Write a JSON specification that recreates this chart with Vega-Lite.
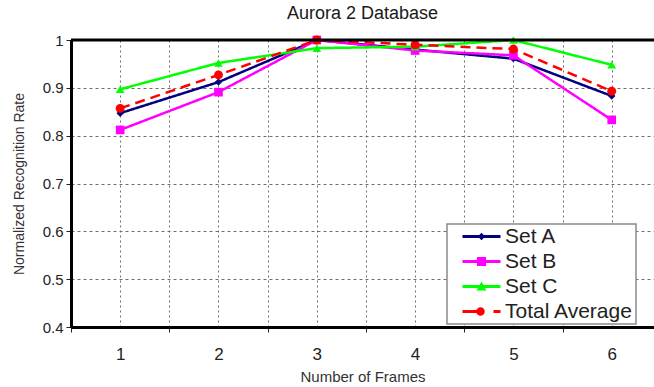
{
  "$schema": "https://vega.github.io/schema/vega-lite/v6.json",
  "autosize": "none",
  "width": 583,
  "height": 287,
  "padding": {"left": 71, "top": 40, "right": 0, "bottom": 60},
  "background": "white",
  "title": {
    "text": "Aurora 2 Database",
    "font": "Liberation Sans",
    "fontSize": 18,
    "fontWeight": "normal",
    "color": "#1a1a1a",
    "anchor": "middle",
    "offset": 10
  },
  "config": {
    "view": {"stroke": null},
    "font": "Liberation Sans",
    "legend": {
      "fillColor": "white",
      "strokeColor": "#8a8a8a",
      "strokeWidth": 1.5,
      "padding": 2,
      "symbolOffset": 22,
      "labelOffset": 13,
      "labelFont": "Liberation Sans",
      "labelFontSize": 21,
      "labelColor": "#222222",
      "rowPadding": 3,
      "symbolSize": 100,
      "symbolStrokeWidth": 0,
      "symbolOpacity": 1
    }
  },
  "data": {
    "values": [
      {"series": "Set A", "frames": 1, "rate": 0.847},
      {"series": "Set A", "frames": 2, "rate": 0.912},
      {"series": "Set A", "frames": 3, "rate": 1.0},
      {"series": "Set A", "frames": 4, "rate": 0.98},
      {"series": "Set A", "frames": 5, "rate": 0.961},
      {"series": "Set A", "frames": 6, "rate": 0.883},
      {"series": "Set B", "frames": 1, "rate": 0.812},
      {"series": "Set B", "frames": 2, "rate": 0.891},
      {"series": "Set B", "frames": 3, "rate": 1.0},
      {"series": "Set B", "frames": 4, "rate": 0.978},
      {"series": "Set B", "frames": 5, "rate": 0.968},
      {"series": "Set B", "frames": 6, "rate": 0.833},
      {"series": "Set C", "frames": 1, "rate": 0.897},
      {"series": "Set C", "frames": 2, "rate": 0.952},
      {"series": "Set C", "frames": 3, "rate": 0.983},
      {"series": "Set C", "frames": 4, "rate": 0.986},
      {"series": "Set C", "frames": 5, "rate": 1.0},
      {"series": "Set C", "frames": 6, "rate": 0.948},
      {"series": "Total Average", "frames": 1, "rate": 0.857},
      {"series": "Total Average", "frames": 2, "rate": 0.927},
      {"series": "Total Average", "frames": 3, "rate": 1.0},
      {"series": "Total Average", "frames": 4, "rate": 0.99},
      {"series": "Total Average", "frames": 5, "rate": 0.981},
      {"series": "Total Average", "frames": 6, "rate": 0.893}
    ]
  },
  "layer": [
    {
      "mark": {"type": "line", "strokeWidth": 2.5},
      "encoding": {
        "x": {
          "field": "frames",
          "type": "quantitative",
          "scale": {"domain": [0.5, 6.43], "nice": false, "zero": false},
          "axis": {
            "values": [0.5, 1, 1.5, 2, 2.5, 3, 3.5, 4, 4.5, 5, 5.5, 6],
            "labelExpr": "datum.value % 1 === 0 ? format(datum.value, 'd') : ''",
            "labelOverlap": false,
            "labelFlush": false,
            "labelFontSize": 17,
            "labelColor": "#222222",
            "labelPadding": 14,
            "tickSize": 5,
            "tickColor": "#222222",
            "tickOpacity": {"condition": {"test": "datum.value % 1 === 0", "value": 0}, "value": 1},
            "domainColor": "black",
            "domainWidth": 3,
            "grid": true,
            "gridColor": "#6e6e6e",
            "gridDash": [2, 3],
            "gridWidth": 1,
            "title": "Number of Frames",
            "titleFontSize": 15,
            "titleFontWeight": "normal",
            "titleColor": "#333333",
            "titlePadding": 7
          }
        },
        "y": {
          "field": "rate",
          "type": "quantitative",
          "scale": {"domain": [0.4, 1], "nice": false, "zero": false},
          "axis": {
            "values": [0.4, 0.5, 0.6, 0.7, 0.8, 0.9, 1],
            "format": "~g",
            "labelFontSize": 15,
            "labelColor": "#222222",
            "labelPadding": 3,
            "tickSize": 5,
            "tickColor": "#222222",
            "domainColor": "black",
            "domainWidth": 3,
            "grid": true,
            "gridColor": "#6e6e6e",
            "gridDash": [3, 3],
            "gridWidth": 1,
            "title": "Normalized Recognition Rate",
            "titleFontSize": 14,
            "titleFontWeight": "normal",
            "titleColor": "#333333",
            "titlePadding": 16
          }
        },
        "color": {
          "field": "series",
          "type": "nominal",
          "scale": {
            "domain": ["Total Average", "Set A", "Set B", "Set C"],
            "range": ["#ff0000", "#000080", "#ff00ff", "#00ff00"]
          },
          "legend": null
        },
        "strokeDash": {
          "field": "series",
          "type": "nominal",
          "scale": {
            "domain": ["Total Average", "Set A", "Set B", "Set C"],
            "range": [[10, 6], [1, 0], [1, 0], [1, 0]]
          },
          "legend": null
        }
      }
    },
    {
      "transform": [{"filter": "datum.series === 'Set A'"}],
      "mark": {"type": "point", "shape": "diamond", "filled": true, "opacity": 1, "size": 55},
      "encoding": {
        "x": {"field": "frames", "type": "quantitative"},
        "y": {"field": "rate", "type": "quantitative"},
        "color": {"field": "series", "type": "nominal", "legend": null}
      }
    },
    {
      "transform": [{"filter": "datum.series === 'Set B'"}],
      "mark": {"type": "point", "shape": "square", "filled": true, "opacity": 1, "size": 75},
      "encoding": {
        "x": {"field": "frames", "type": "quantitative"},
        "y": {"field": "rate", "type": "quantitative"},
        "color": {"field": "series", "type": "nominal", "legend": null}
      }
    },
    {
      "transform": [{"filter": "datum.series === 'Set C'"}],
      "mark": {"type": "point", "shape": "triangle-up", "filled": true, "opacity": 1, "size": 75},
      "encoding": {
        "x": {"field": "frames", "type": "quantitative"},
        "y": {"field": "rate", "type": "quantitative"},
        "color": {"field": "series", "type": "nominal", "legend": null}
      }
    },
    {
      "transform": [{"filter": "datum.series === 'Total Average'"}],
      "mark": {"type": "point", "shape": "circle", "filled": true, "opacity": 1, "size": 80},
      "encoding": {
        "x": {"field": "frames", "type": "quantitative"},
        "y": {"field": "rate", "type": "quantitative"},
        "color": {"field": "series", "type": "nominal", "legend": null}
      }
    },
    {
      "data": {"values": [{"top": 1}]},
      "mark": {"type": "rule", "color": "black", "strokeWidth": 3},
      "encoding": {"y": {"field": "top", "type": "quantitative"}}
    },
    {
      "mark": {"type": "point", "filled": true, "opacity": 0},
      "encoding": {
        "x": {"field": "frames", "type": "quantitative"},
        "y": {"field": "rate", "type": "quantitative"},
        "fill": {
          "field": "series",
          "type": "nominal",
          "scale": {
            "domain": ["Set A", "Set B", "Set C", "Total Average"],
            "range": ["#000080", "#ff00ff", "#00ff00", "#ff0000"]
          },
          "legend": {"title": null, "orient": "none", "legendX": 376, "legendY": 184}
        },
        "shape": {
          "field": "series",
          "type": "nominal",
          "scale": {
            "domain": ["Set A", "Set B", "Set C", "Total Average"],
            "range": [
              "M-3.8,-0.3H3.8V0.3H-3.8Z M0,-0.75L0.75,0L0,0.75L-0.75,0Z",
              "M-3.8,-0.3H3.8V0.3H-3.8Z M-0.9,-0.9H0.9V0.9H-0.9Z",
              "M-3.8,-0.3H3.8V0.3H-3.8Z M0,-1L1,0.8H-1Z",
              "M-3.8,-0.3H-0.4V0.3H-3.8Z M2.4,-0.3H3.8V0.3H2.4Z M-1.05,0A0.85,0.85 0 1,1 0.65,0A0.85,0.85 0 1,1 -1.05,0Z"
            ]
          },
          "legend": {"title": null, "orient": "none", "legendX": 376, "legendY": 184}
        }
      }
    }
  ]
}
